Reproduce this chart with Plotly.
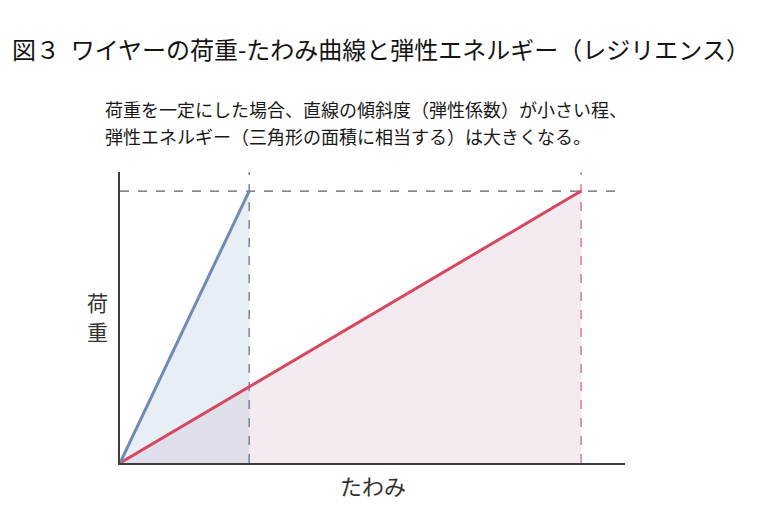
import plotly.graph_objects as go

# データ（荷重-たわみ）
load_max = 1.0
deflection_blue = [0, 1.0]      # 弾性係数が大きいワイヤー
deflection_red = [0, 3.57]      # 弾性係数が小さいワイヤー
load = [0, load_max]

x_max = 3.91
y_max = 1.07

title_text = "図３  ワイヤーの荷重-たわみ曲線と弾性エネルギー（レジリエンス）"
note_line1 = "荷重を一定にした場合、直線の傾斜度（弾性係数）が小さい程、"
note_line2 = "弾性エネルギー（三角形の面積に相当する）は大きくなる。"
x_label = "たわみ"
y_label_chars = ["荷", "重"]

FONT = "Noto Sans CJK JP"
BLUE = "rgb(112,138,182)"
RED = "rgb(214,72,96)"

fig = go.Figure()

# 三角形の面積（弾性エネルギー）
fig.add_trace(go.Scatter(
    x=[0, deflection_red[1], deflection_red[1], 0],
    y=[0, load[1], 0, 0],
    fill="toself", fillcolor="rgba(215,190,205,0.30)",
    line=dict(width=0), mode="lines", hoverinfo="skip",
))
fig.add_trace(go.Scatter(
    x=[0, deflection_blue[1], deflection_blue[1], 0],
    y=[0, load[1], 0, 0],
    fill="toself", fillcolor="rgba(180,200,225,0.30)",
    line=dict(width=0), mode="lines", hoverinfo="skip",
))

# 補助線（破線）
fig.add_trace(go.Scatter(
    x=[0, x_max * 0.99], y=[load_max, load_max], mode="lines",
    line=dict(color="rgb(95,95,105)", width=1.2, dash="dash"), hoverinfo="skip",
))
fig.add_trace(go.Scatter(
    x=[deflection_blue[1], deflection_blue[1]], y=[0, y_max], mode="lines",
    line=dict(color="rgb(95,105,125)", width=1.2, dash="dash"), hoverinfo="skip",
))
fig.add_trace(go.Scatter(
    x=[deflection_red[1], deflection_red[1]], y=[0, y_max], mode="lines",
    line=dict(color="rgb(205,95,120)", width=1.2, dash="dash"), hoverinfo="skip",
))

# 荷重-たわみ直線
fig.add_trace(go.Scatter(
    x=deflection_red, y=load, mode="lines",
    line=dict(color=RED, width=3), hoverinfo="skip",
))
fig.add_trace(go.Scatter(
    x=deflection_blue, y=load, mode="lines",
    line=dict(color=BLUE, width=3), hoverinfo="skip",
))

axis_common = dict(
    showgrid=False, zeroline=False, showticklabels=False, ticks="",
    showline=True, linecolor="rgb(60,60,60)", linewidth=1.5,
)

fig.update_layout(
    width=760, height=519,
    margin=dict(l=112, r=143, t=164, b=64),
    paper_bgcolor="white", plot_bgcolor="white",
    showlegend=False,
    font=dict(family=FONT, color="rgb(30,30,30)"),
    xaxis=dict(range=[0, x_max], **axis_common),
    yaxis=dict(range=[0, y_max], **axis_common),
)

# 文字（タイトル・説明・軸名）
fig.add_annotation(
    text=title_text, xref="paper", yref="paper", x=-0.218, y=1.426,
    xanchor="left", yanchor="middle", showarrow=False,
    font=dict(size=24, family=FONT, color="rgb(20,20,20)"),
)
fig.add_annotation(
    text=note_line1, xref="paper", yref="paper", x=-0.034, y=1.216,
    xanchor="left", yanchor="middle", showarrow=False,
    font=dict(size=18, family=FONT, color="rgb(25,25,25)"),
)
fig.add_annotation(
    text=note_line2, xref="paper", yref="paper", x=-0.034, y=1.124,
    xanchor="left", yanchor="middle", showarrow=False,
    font=dict(size=18, family=FONT, color="rgb(25,25,25)"),
)
fig.add_annotation(
    text=x_label, xref="paper", yref="paper", x=0.50, y=-0.076,
    xanchor="center", yanchor="middle", showarrow=False,
    font=dict(size=22, family=FONT, color="rgb(50,50,50)"),
)
for ch, yy in zip(y_label_chars, [0.552, 0.452]):
    fig.add_annotation(
        text=ch, xref="paper", yref="paper", x=-0.0455, y=yy,
        xanchor="center", yanchor="middle", showarrow=False,
        font=dict(size=21, family=FONT, color="rgb(50,50,50)"),
    )

fig.write_html("out.html")
